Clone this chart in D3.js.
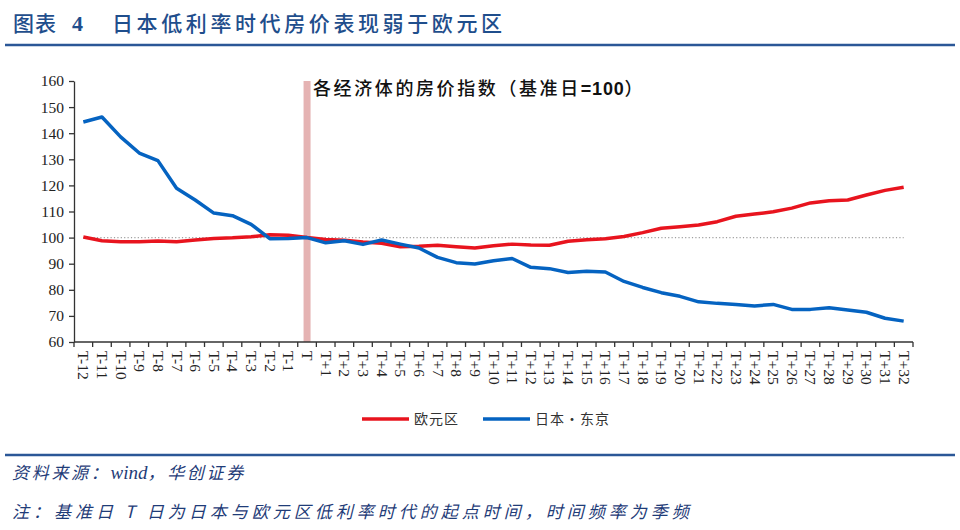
<!DOCTYPE html>
<html><head><meta charset="utf-8">
<script src="https://cdn.jsdelivr.net/npm/d3@7"></script>
<style>
body{margin:0;background:#fff;}
svg{display:block;}
</style></head>
<body>
<svg id="chart" width="960" height="530"></svg>
<script>
const categories = ["T-12","T-11","T-10","T-9","T-8","T-7","T-6","T-5","T-4","T-3","T-2","T-1","T",
"T+1","T+2","T+3","T+4","T+5","T+6","T+7","T+8","T+9","T+10","T+11","T+12","T+13","T+14","T+15","T+16",
"T+17","T+18","T+19","T+20","T+21","T+22","T+23","T+24","T+25","T+26","T+27","T+28","T+29","T+30","T+31","T+32"];
const euroValues = [100.2,98.8,98.4,98.4,98.7,98.4,99.1,99.7,99.9,100.3,101.1,100.9,100,
99.3,99.0,98.3,97.8,96.5,96.7,97.1,96.5,96.0,96.9,97.5,97.2,97.1,98.6,99.2,99.6,
100.4,101.9,103.6,104.2,104.8,106.1,108.2,109.0,109.9,111.3,113.3,114.1,114.4,116.3,118.1,119.3];
const tokyoValues = [144.3,146.2,138.6,132.4,129.5,118.9,114.4,109.4,108.4,105.1,99.6,99.7,100,
98.0,98.8,97.4,99.1,97.5,96.0,92.4,90.4,89.9,91.1,92.0,88.6,88.1,86.6,87.1,86.8,
83.2,80.9,78.9,77.5,75.4,74.8,74.4,73.8,74.4,72.5,72.5,73.1,72.3,71.4,69.1,68.0];
const yTicks = [60,70,80,90,100,110,120,130,140,150,160];
const seriesNames = ["欧元区","日本·东京"];
const baseCategory = "T";
const baseValue = 100;

const svg = d3.select("#chart");
const L = 74, R = 913, T = 81, B = 342;
const x = d3.scaleBand().domain(categories).range([L, R]).paddingInner(0).paddingOuter(0);
const y = d3.scaleLinear().domain([60,160]).range([B, T]);
const cx = c => x(c) + x.bandwidth()/2;

const blue = "#2b5797";
const cjk = "'Noto Sans CJK SC', sans-serif";
// Title
const tt = svg.append("text").attr("y",31).attr("font-family",cjk).attr("font-size",21).attr("font-weight",500).attr("fill","#1f4e8c");
tt.append("tspan").attr("x",13).attr("letter-spacing",1).text("图表");
tt.append("tspan").attr("x",72).attr("font-family","'Liberation Serif', serif").attr("font-weight",700).attr("font-size",22).text("4");
tt.append("tspan").attr("x",112).attr("letter-spacing",3.6).text("日本低利率时代房价表现弱于欧元区");
svg.append("line").attr("x1",5).attr("x2",955).attr("y1",45).attr("y2",45).attr("stroke",blue).attr("stroke-width",2.5);
svg.append("line").attr("x1",5).attr("x2",955).attr("y1",455).attr("y2",455).attr("stroke",blue).attr("stroke-width",2.5);

// base bar
svg.append("rect").attr("x",cx(baseCategory)-3.5).attr("width",7).attr("y",T).attr("height",B-T).attr("fill","#e5b3b3");

// reference dotted line
svg.append("line").attr("x1",cx(categories[0])).attr("x2",cx(categories[categories.length-1]))
  .attr("y1",y(baseValue)).attr("y2",y(baseValue)).attr("stroke","#a0a0a0").attr("stroke-width",1.2).attr("stroke-dasharray","1.2,2.2");

// Axes
const yAxis = d3.axisLeft(y).tickValues(yTicks).tickSize(5).tickSizeOuter(0);
const gy = svg.append("g").attr("transform",`translate(${L},0)`).call(yAxis);
gy.select(".domain").attr("stroke","#333").attr("stroke-width",1.3);
gy.selectAll(".tick line").attr("stroke","#333").attr("stroke-width",1.3);
gy.selectAll(".tick text").attr("font-family","'Liberation Serif', serif").attr("font-size",15.5).attr("fill","#222").attr("x",-10);

const gx = svg.append("g").attr("transform",`translate(0,${B})`);
gx.append("line").attr("x1",L).attr("x2",R).attr("stroke","#333").attr("stroke-width",1.3);
const bounds = categories.map(c => x(c)).concat([R]);
gx.selectAll("line.tk").data(bounds).enter().append("line").attr("class","tk")
  .attr("x1",d=>d).attr("x2",d=>d).attr("y1",0).attr("y2",5).attr("stroke","#333").attr("stroke-width",1.3);
gx.selectAll("text").data(categories).enter().append("text")
  .attr("transform",d=>`translate(${cx(d)-5},9) rotate(90)`)
  .attr("font-family","'Liberation Serif', serif").attr("font-size",15.5).attr("fill","#222")
  .attr("text-anchor","start").text(d=>d);

// Lines
const line = d3.line().x((d,i)=>cx(categories[i])).y(d=>y(d));
svg.append("path").datum(euroValues).attr("d",line).attr("fill","none").attr("stroke","#e8141e").attr("stroke-width",3.5).attr("stroke-linejoin","round");
svg.append("path").datum(tokyoValues).attr("d",line).attr("fill","none").attr("stroke","#0563c1").attr("stroke-width",3.5).attr("stroke-linejoin","round");

// Chart title
const ct = svg.append("text").attr("x",313).attr("y",95).attr("font-family",cjk)
  .attr("font-size",18).attr("fill","#111").attr("font-weight",500).attr("letter-spacing",2.6);
ct.append("tspan").text("各经济体的房价指数（基准日");
ct.append("tspan").attr("font-weight",700).attr("letter-spacing",0.8).attr("font-family","'Liberation Sans', 'Noto Sans CJK SC', sans-serif").text("=100");
ct.append("tspan").text("）");

// Legend
const leg = [{n:seriesNames[0],c:"#e8141e",x:362},{n:seriesNames[1],c:"#0563c1",x:483}];
leg.forEach(l=>{
  svg.append("line").attr("x1",l.x).attr("x2",l.x+47).attr("y1",419).attr("y2",419).attr("stroke",l.c).attr("stroke-width",3.5);
  svg.append("text").attr("x",l.x+52).attr("y",424).attr("font-family",cjk)
    .attr("font-size",14).attr("fill","#333").attr("letter-spacing",1).text(l.n);
});

// Footer
const src = svg.append("text").attr("x",12).attr("y",479).attr("font-family",cjk)
  .attr("font-size",17).attr("font-style","italic").attr("fill","#1f3c78");
src.append("tspan").attr("letter-spacing",2.7).text("资料来源：");
src.append("tspan").attr("font-family","'Liberation Serif', serif").attr("font-size",19).text("wind");
src.append("tspan").attr("letter-spacing",2.7).text("，华创证券");
svg.append("text").attr("x",12).attr("y",518).attr("font-family",cjk).attr("letter-spacing",4)
  .attr("font-size",17).attr("font-style","italic").attr("fill","#1f3c78").text("注：基准日 T 日为日本与欧元区低利率时代的起点时间，时间频率为季频");
</script>
</body></html>
